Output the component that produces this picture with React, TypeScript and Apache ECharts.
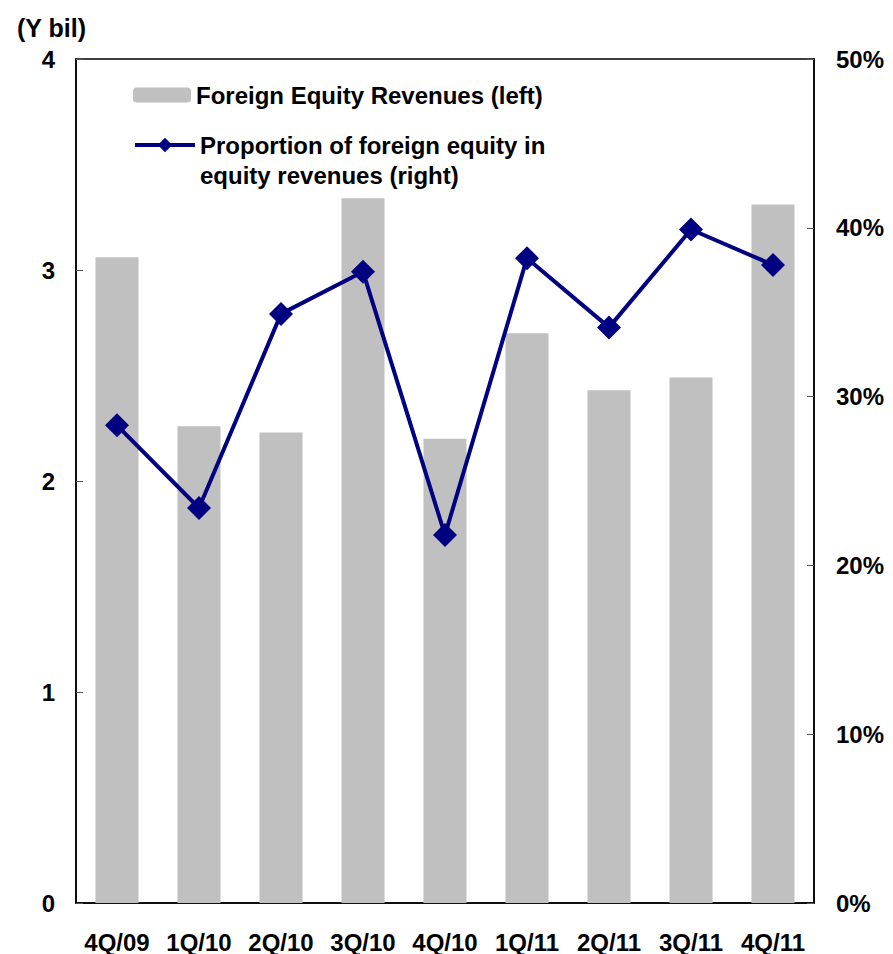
import React, { useEffect, useRef } from "react";
import * as echarts from "echarts";

const categories = ["4Q/09", "1Q/10", "2Q/10", "3Q/10", "4Q/10", "1Q/11", "2Q/11", "3Q/11", "4Q/11"];
const revenues = [3.06, 2.26, 2.23, 3.34, 2.2, 2.7, 2.43, 2.49, 3.31];
const proportion = [28.3, 23.4, 34.9, 37.4, 21.8, 38.2, 34.1, 39.9, 37.8];
const barName = "Foreign Equity Revenues (left)";
const lineName = "Proportion of foreign equity in equity revenues (right)";

const FONT = "'Liberation Sans', Arial, sans-serif";

export default function App() {
  const ref = useRef<HTMLDivElement>(null);
  useEffect(() => {
    document.body.style.margin = "0";
    if (!ref.current) return;
    const chart = echarts.init(ref.current, undefined, { renderer: "svg" });
    chart.setOption({
      animation: false,
      backgroundColor: "#fff",
      textStyle: { fontFamily: FONT },
      title: {
        text: "(Y bil)",
        left: 12,
        top: 10,
        textStyle: { fontFamily: FONT, fontSize: 25, fontWeight: "bold", color: "#000" },
      },
      grid: {
        left: 76,
        top: 59,
        width: 738,
        height: 844,
        show: true,
        borderColor: "#000",
        borderWidth: 1.5,
        backgroundColor: "transparent",
      },
      legend: [
        {
          data: [barName],
          left: 128,
          top: 78,
          itemWidth: 58,
          itemHeight: 15,
          itemGap: 8,
          textStyle: { fontFamily: FONT, fontSize: 24, fontWeight: "bold", color: "#000" },
        },
        {
          data: [lineName],
          left: 128,
          top: 95,
          itemWidth: 60,
          itemHeight: 18,
          itemGap: 8,
          lineStyle: { width: 4, color: "#000080" },
          formatter: () => "\nProportion of foreign equity in\nequity revenues (right)",
          textStyle: {
            fontFamily: FONT,
            fontSize: 24,
            fontWeight: "bold",
            color: "#000",
            lineHeight: 30,
          },
        },
      ],
      xAxis: {
        type: "category",
        data: categories,
        axisLine: { lineStyle: { color: "#000", width: 1.5 } },
        axisTick: { inside: true, length: 8, lineStyle: { color: "#555" } },
        axisLabel: {
          fontFamily: FONT,
          fontSize: 24,
          fontWeight: "bold",
          color: "#000",
          margin: 27,
          interval: 0,
        },
      },
      yAxis: [
        {
          type: "value",
          min: 0,
          max: 4,
          interval: 1,
          splitLine: { show: false },
          axisLine: { show: true, lineStyle: { color: "#000", width: 1.5 } },
          axisTick: { show: true, inside: true, length: 7, lineStyle: { color: "#555" } },
          axisLabel: {
            fontFamily: FONT,
            fontSize: 24,
            fontWeight: "bold",
            color: "#000",
            margin: 21,
          },
        },
        {
          type: "value",
          min: 0,
          max: 50,
          interval: 10,
          position: "right",
          splitLine: { show: false },
          axisLine: { show: true, lineStyle: { color: "#000", width: 1.5 } },
          axisTick: { show: true, inside: true, length: 7, lineStyle: { color: "#555" } },
          axisLabel: {
            fontFamily: FONT,
            fontSize: 24,
            fontWeight: "bold",
            color: "#000",
            margin: 22,
            formatter: "{value}%",
          },
        },
      ],
      series: [
        {
          name: barName,
          type: "bar",
          data: revenues,
          yAxisIndex: 0,
          barWidth: 43,
          itemStyle: { color: "#C0C0C0" },
        },
        {
          name: lineName,
          type: "line",
          data: proportion,
          yAxisIndex: 1,
          symbol: "diamond",
          symbolSize: 24,
          lineStyle: { color: "#000080", width: 4 },
          itemStyle: { color: "#000080" },
        },
      ],
    });
    return () => chart.dispose();
  }, []);
  return <div ref={ref} style={{ width: 893, height: 954 }} />;
}
